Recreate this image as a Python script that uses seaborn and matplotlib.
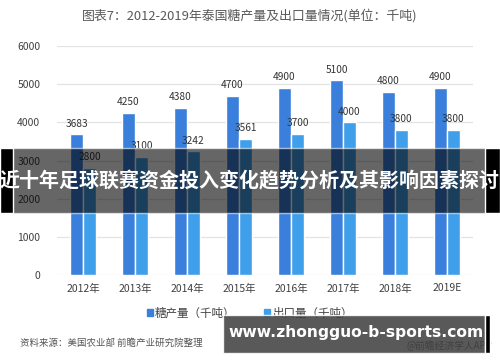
import matplotlib
matplotlib.use("Agg")
import matplotlib.pyplot as plt
import seaborn as sns
import pandas as pd
from matplotlib.patches import Rectangle

years = ["2012年", "2013年", "2014年", "2015年", "2016年", "2017年", "2018年", "2019E"]
production = [3683, 4250, 4380, 4700, 4900, 5100, 4800, 4900]
export = [2800, 3100, 3242, 3561, 3700, 4000, 3800, 3800]
series_names = ["糖产量（千吨）", "出口量（千吨）"]
yticks = [0, 1000, 2000, 3000, 4000, 5000, 6000]

sns.set_theme(style="white")
plt.rcParams['font.family'] = ['Noto Sans CJK SC', 'DejaVu Sans']

df = pd.DataFrame({
    "year": years * 2,
    "value": production + export,
    "series": [series_names[0]] * len(years) + [series_names[1]] * len(years),
})

fig = plt.figure(figsize=(5, 3.62), dpi=100)
ax = fig.add_axes([0.114, 0.240, 0.832, 0.633])
palette = {series_names[0]: "#3a7fdb", series_names[1]: "#3f9fea"}
sns.barplot(data=df, x="year", y="value", hue="series", palette=palette,
            width=0.5, ax=ax, legend=False, saturation=1)

ax.set_ylim(0, 6000)
ax.set_xlim(-0.5, len(years) - 0.5)
ax.set_yticks(yticks)
ax.set_yticklabels([str(v) for v in yticks], fontsize=7.5, color="#404040")
ax.tick_params(axis="x", labelsize=7.5, colors="#404040", length=0, pad=6)
ax.tick_params(axis="y", length=0, pad=12)
ax.yaxis.grid(True, color="#e3e3e3", linewidth=0.9)
ax.set_axisbelow(True)
for s in ax.spines.values():
    s.set_visible(False)
ax.set_xlabel("")
ax.set_ylabel("")

for cont in ax.containers:
    for rect in cont:
        h = rect.get_height()
        ax.text(rect.get_x() + rect.get_width() / 2, h + 150, f"{int(h)}",
                ha="center", va="bottom", fontsize=7.3, color="#333333")

fig.text(0.5, 0.957, "图表7：2012-2019年泰国糖产量及出口量情况(单位：千吨)",
         ha="center", va="center", fontsize=9.3, color="#595959")

# legend
handles = [Rectangle((0, 0), 1, 1, color=palette[n]) for n in series_names]
fig.legend(handles, series_names, loc="center", bbox_to_anchor=(0.5, 0.135),
           ncol=2, frameon=False, fontsize=8.3, handlelength=0.5, handleheight=0.5,
           handletextpad=0.2, columnspacing=2.5, labelcolor="#404040")

fig.text(0.04, 0.053, "资料来源：美国农业部 前瞻产业研究院整理", ha="left", va="center",
         fontsize=6.8, color="#555555", style="italic")
fig.text(0.985, 0.045, "@前瞻经济学人APP", ha="right", va="center",
         fontsize=7, color="#555555")

# overlay band
fig.patches.append(Rectangle((0, 1 - 213 / 362), 1, 65 / 362, transform=fig.transFigure,
                             facecolor="black", alpha=0.6, zorder=10))
fig.patches.append(Rectangle((0, 1 - 213 / 362), 13 / 500, 65 / 362, transform=fig.transFigure,
                             facecolor="black", alpha=1, zorder=11))
fig.patches.append(Rectangle((485 / 500, 1 - 213 / 362), 15 / 500, 65 / 362, transform=fig.transFigure,
                             facecolor="black", alpha=1, zorder=11))
fig.text(0.5, 1 - 181 / 362, "近十年足球联赛资金投入变化趋势分析及其影响因素探讨",
         ha="center", va="center", fontsize=14.4, color="white", fontweight="bold", zorder=12)

# url box
fig.patches.append(Rectangle((223 / 500, 1 - 353 / 362), 262 / 500, 38 / 362, transform=fig.transFigure,
                             facecolor="#3c3c3c", alpha=0.85, zorder=10))
fig.patches.append(Rectangle((485 / 500, 1 - 353 / 362), 5 / 500, 38 / 362, transform=fig.transFigure,
                             facecolor="black", alpha=1, zorder=11))
fig.text(356 / 500, 1 - 333 / 362, "www.zhongguo-b-sports.com", ha="center", va="center",
         fontsize=11.2, color="white", fontweight="bold", family="DejaVu Sans", zorder=12)

fig.savefig("out.png", dpi=100)
